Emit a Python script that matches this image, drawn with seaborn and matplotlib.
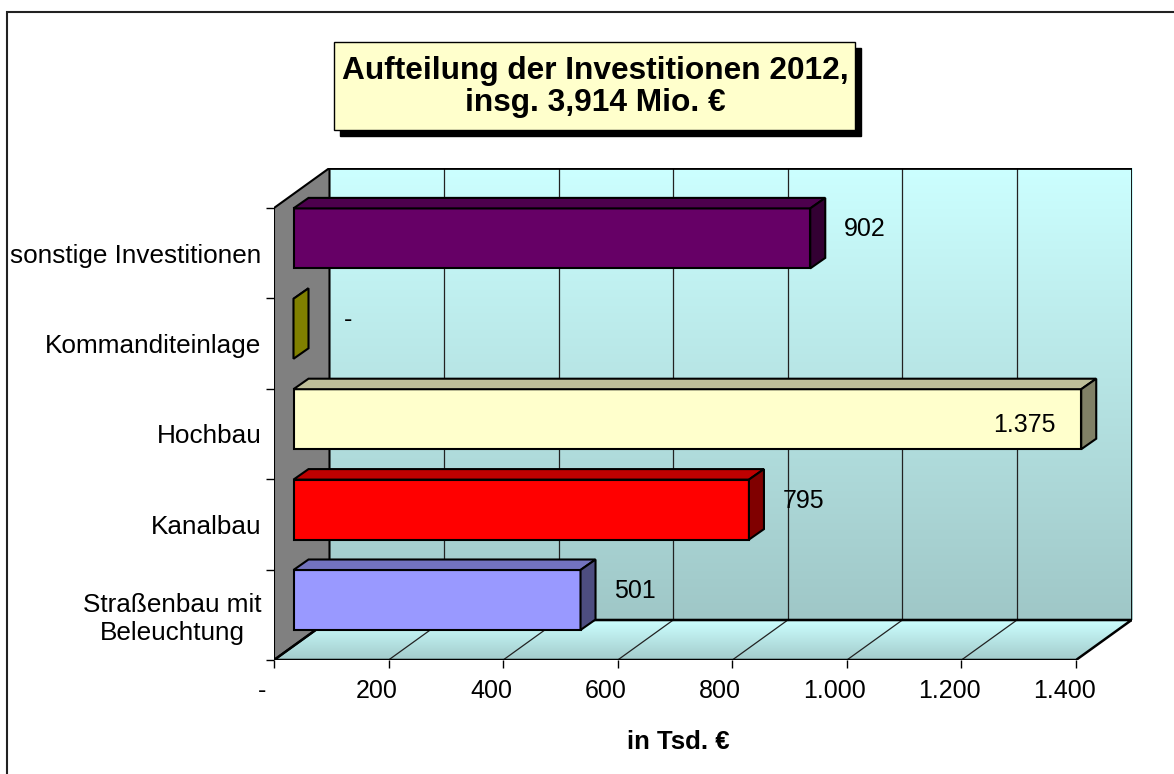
import numpy as np
import pandas as pd
import seaborn as sns
import matplotlib.pyplot as plt
from matplotlib.patches import Polygon, Rectangle
from matplotlib.colors import to_rgb, LinearSegmentedColormap
from matplotlib.transforms import ScaledTranslation

# data (in Tsd. €)
categories = ["sonstige Investitionen", "Kommanditeinlage", "Hochbau", "Kanalbau",
              "Straßenbau mit\nBeleuchtung"]
values = [902, 0, 1375, 795, 501]
colors = ["#660066", "#FFFF00", "#FFFFCC", "#FF0000", "#9999FF"]
x_ticks = [0, 200, 400, 600, 800, 1000, 1200, 1400]


def de_fmt(v):
    # German number format, zero shown as "-"
    return "-" if v == 0 else f"{v:,.0f}".replace(",", ".")


W, H, DPI = 1174, 774, 100
sns.set_theme(style="white")
plt.rcParams["font.family"] = ["Liberation Sans", "DejaVu Sans"]
plt.rcParams["text.color"] = "black"
plt.rcParams["xtick.color"] = "black"
plt.rcParams["ytick.color"] = "black"
plt.rcParams["axes.labelcolor"] = "black"

fig = plt.figure(figsize=(W / DPI, H / DPI), dpi=DPI)

# pseudo 3D geometry (pixels)
PX = 0.5729          # px per unit on x
CAT = 90.4           # px per category
DEPTH = (55.5, 40)   # front plane -> back wall
SHIFT = (19.5, 14.8) # front plane -> bar front face
BDEPTH = (15, 10.5)  # bar depth
BAR_W = 60 / CAT

box_left, box_bottom = 274, 660
box_w = 1400 * PX + DEPTH[0]
box_h = 5 * CAT + DEPTH[1]
ax = fig.add_axes([box_left / W, 1 - box_bottom / H, box_w / W, box_h / H])

# data units
sx, sy = SHIFT[0] / PX, SHIFT[1] / CAT
dx, dy = DEPTH[0] / PX, DEPTH[1] / CAT
bdx, bdy = BDEPTH[0] / PX, BDEPTH[1] / CAT


def xf(v):
    return v - sx


ft, fb = -0.5 + sy, 4.5 + sy   # front plane top / bottom

df = pd.DataFrame({"Kategorie": categories, "Wert": values})
sns.barplot(data=df, x="Wert", y="Kategorie", hue="Kategorie", palette=colors,
            saturation=1, legend=False, orient="h", width=BAR_W, edgecolor="black",
            linewidth=1.5, ax=ax)
bars = list(ax.patches)

# 3D faces of the bars
for bar in bars:
    bar.set_zorder(5)
    fc = np.array(to_rgb(bar.get_facecolor()))
    x0, yt = bar.get_x(), bar.get_y()
    x1, yb = x0 + bar.get_width(), yt + bar.get_height()
    top = [(x0, yt), (x1, yt), (x1 + bdx, yt - bdy), (x0 + bdx, yt - bdy)]
    side = [(x1, yt), (x1 + bdx, yt - bdy), (x1 + bdx, yb - bdy), (x1, yb)]
    ax.add_patch(Polygon(top, closed=True, fc=fc * 0.75, ec="black", lw=1.5, zorder=5))
    ax.add_patch(Polygon(side, closed=True, fc=fc * 0.5, ec="black", lw=1.5, zorder=5))

# back wall with gradient
wall_cmap = LinearSegmentedColormap.from_list("wall", ["#CCFFFF", "#9FC7C7"])
grad = np.linspace(0, 1, 256).reshape(-1, 1)
ax.imshow(grad, cmap=wall_cmap, aspect="auto", origin="upper", zorder=0,
          extent=[xf(0) + dx, xf(1400) + dx, fb - dy, ft - dy])

# floor with gradient
floor_pts = [(xf(0), fb), (xf(1400), fb), (xf(1400) + dx, fb - dy), (xf(0) + dx, fb - dy)]
floor = Polygon(floor_pts, closed=True, fc="none", ec="black", lw=1.8, zorder=2)
ax.add_patch(floor)
floor_cmap = LinearSegmentedColormap.from_list("floor", ["#CCFFFF", "#A3CBCB"])
im = ax.imshow(grad, cmap=floor_cmap, aspect="auto", origin="upper", zorder=0.5,
               extent=[xf(0), xf(1400) + dx, fb, fb - dy])
im.set_clip_path(floor)

# left wall
ax.add_patch(Polygon([(xf(0), ft), (xf(0) + dx, ft - dy), (xf(0) + dx, fb - dy), (xf(0), fb)],
                     closed=True, fc="#808080", ec="black", lw=1.5, zorder=1))

# grid lines on wall and floor
for v in x_ticks[1:-1]:
    ax.plot([xf(v) + dx] * 2, [ft - dy, fb - dy], color="#222222", lw=0.9, zorder=1)
    ax.plot([xf(v), xf(v) + dx], [fb, fb - dy], color="#222222", lw=0.9, zorder=1)

# back wall outline
ax.plot([xf(0) + dx, xf(1400) + dx, xf(1400) + dx],
        [ft - dy, ft - dy, fb - dy], color="black", lw=2, zorder=2)
ax.plot([xf(0) + dx, xf(1400) + dx], [fb - dy, fb - dy], color="black", lw=1.5, zorder=2)

ax.set_xlim(xf(0), xf(1400) + dx)
ax.set_ylim(fb, ft - dy)
for s in ax.spines.values():
    s.set_visible(False)
ax.patch.set_visible(False)
ax.set_xlabel("")
ax.set_ylabel("")

# x axis ticks on the front edge
ax.set_xticks([xf(v) for v in x_ticks])
ax.set_xticklabels([de_fmt(v) for v in x_ticks])
ax.tick_params(axis="x", bottom=True, length=6, width=1, color="black",
               labelsize=18, pad=8, labelcolor="black")
shift = ScaledTranslation(-12 / DPI, 0, fig.dpi_scale_trans)
for t in ax.get_xticklabels():
    t.set_transform(t.get_transform() + shift)

# y axis: labels centred in category band, ticks on boundaries
ax.set_yticks([i + sy for i in range(len(categories))])
ax.set_yticklabels(categories)
ax.set_yticks([i - 0.5 + sy for i in range(len(categories) + 1)], minor=True)
ax.tick_params(axis="y", which="major", left=True, length=0, pad=9, labelsize=18.8,
               labelcolor="black")
ax.tick_params(axis="y", which="minor", left=True, length=6, width=1, color="black")
for t in ax.get_yticklabels():
    t.set_multialignment("center")
    t.set_linespacing(1.2)

# value labels
for i, v in enumerate(values):
    if v + 200 <= 1400:
        ax.text(v + 95, i - 0.1, de_fmt(v), ha="center", va="center", fontsize=18, zorder=6)
    else:
        ax.text(v - 100, i + 0.06, de_fmt(v), ha="center", va="center", fontsize=18, zorder=6)

fig.text(678 / W, 1 - 742 / H, "in Tsd. €", ha="center", va="center",
         fontsize=18.5, fontweight="bold")

# title box with shadow
fig.add_artist(Rectangle((340 / W, 1 - 136 / H), 521 / W, 88 / H,
                         transform=fig.transFigure, fc="black", ec="black"))
fig.add_artist(Rectangle((334 / W, 1 - 130 / H), 521 / W, 88 / H,
                         transform=fig.transFigure, fc="#FFFFCC", ec="black", lw=1))
fig.text(595 / W, 1 - 87 / H, "Aufteilung der Investitionen 2012,\ninsg. 3,914 Mio. €",
         ha="center", va="center", fontsize=22.8, fontweight="bold", linespacing=1.05)

# outer frame
fig.add_artist(Rectangle((7 / W, -0.05), 1.2, 1 - 12 / H + 0.05,
                         transform=fig.transFigure, fill=False, ec="#222222", lw=1.5))

fig.savefig("out.png", dpi=DPI)
